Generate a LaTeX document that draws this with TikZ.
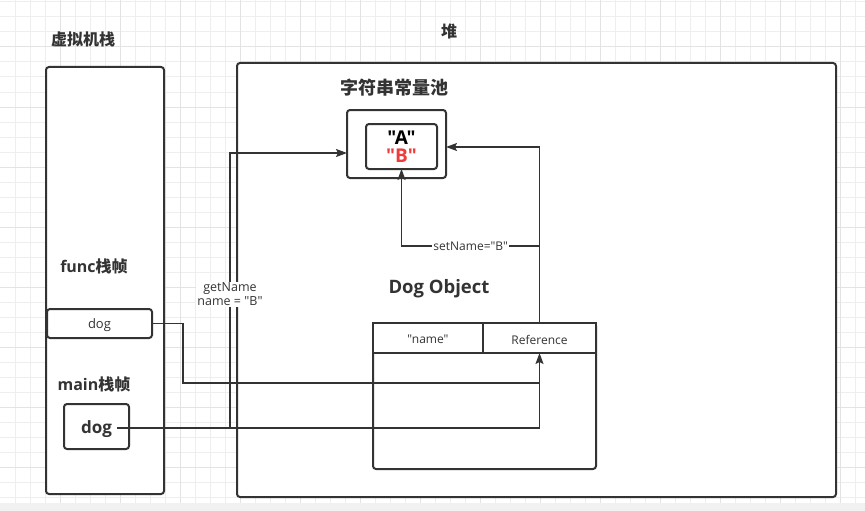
\documentclass[tikz,border=0pt]{standalone}
\usepackage{fontspec}
\setmainfont{Open Sans}[Ligatures=TeXOff]
\newfontfamily\cjk{Noto Sans CJK SC}
\newcommand\dq{\symbol{34}}
\newcommand\lowr[2][2pt]{\raisebox{-#1}[\height][\depth]{#2}}
\usetikzlibrary{arrows.meta}
\definecolor{ink}{HTML}{333333}
\definecolor{gridc}{HTML}{EEEEEE}
\definecolor{gridd}{HTML}{E3E3E3}
\definecolor{band}{HTML}{F1F1F1}
\definecolor{redB}{HTML}{EE3B3B}
\tikzset{
  box/.style={draw=ink, line width=2pt, fill=white, rounded corners=3pt, inner sep=0pt, outer sep=0pt},
  cell/.style={draw=ink, line width=1.6pt, fill=white, inner sep=0pt, outer sep=0pt, font=\fontsize{12}{14}\selectfont, text=ink},
  title/.style={font=\bfseries\fontsize{16}{18}\selectfont, text=ink, inner sep=0pt},
  line/.style={draw=ink, line width=1.7pt},
  conn/.style={line, -{Stealth[length=11pt,width=8pt,inset=2pt]}},
  lbl/.style={fill=white, text=ink, inner sep=1pt, font=\fontsize{12.5}{14}\selectfont, align=center}
}
\begin{document}
\begin{tikzpicture}[x=1pt,y=-1pt]
\useasboundingbox (0,0) rectangle (865,511);
\fill[white] (0,0) rectangle (865,511);
% grid
\foreach \x in {15,30,...,855} \draw[gridc, line width=1pt] (\x,0) -- (\x,503);
\foreach \y in {2,17,...,497} \draw[gridc, line width=1pt] (0,\y) -- (865,\y);
\foreach \x in {60,120,...,840} \draw[gridd, line width=1pt] (\x,0) -- (\x,503);
\foreach \y in {47,107,...,497} \draw[gridd, line width=1pt] (0,\y) -- (865,\y);
\fill[band] (0,503) rectangle (865,511);

% titles
\node[title] (tstack) at (83,39) {\cjk 虚拟机栈};
\node[title] (theap) at (449,31) {\cjk 堆};

% main containers
\node[box, minimum width=118pt, minimum height=427pt] (stack) at (105,280.5) {};
\node[box, minimum width=599pt, minimum height=434pt] (heap) at (536.5,280) {};

% string pool
\node[title, font=\bfseries\fontsize{18}{20}\selectfont] (tpool) at (394,88) {\cjk 字符串常量池};
\node[box, minimum width=99pt, minimum height=68pt] (pool) at (396.5,144) {};
\node[box, minimum width=71pt, minimum height=45pt, align=center,
      font=\bfseries\fontsize{19}{19}\selectfont] (inner) at (401.5,146.5)
      {\textcolor{black}{\dq A\dq}\\[-1pt]\textcolor{redB}{\dq B\dq}};

% stack frames
\node[title] (tfunc) at (94,266) {func\cjk 栈帧};
\node[box, minimum width=105pt, minimum height=29pt, text=ink,
      font=\fontsize{13}{14}\selectfont] (fdog) at (99.5,323.5) {\lowr{dog}};
\node[title] (tmain) at (94,384) {main\cjk 栈帧};
\node[box, minimum width=65pt, minimum height=45pt, text=ink,
      font=\bfseries\fontsize{17}{18}\selectfont] (mdog) at (96.5,426.5) {\lowr[3pt]{dog}};

% Dog object
\node[title, font=\bfseries\fontsize{18.5}{20}\selectfont] (tdog) at (439,288.5) {Dog Object};
\node[box, minimum width=223pt, minimum height=146pt] (obj) at (484.5,396) {};
\node[cell, minimum width=110pt, minimum height=30pt] (namecell) at (428,338) {\lowr[1.5pt]{\dq name\dq}};
\node[cell, minimum width=113pt, minimum height=30pt] (ref) at (539.5,338) {\lowr[1.5pt]{Reference}};

% junction coordinates
\coordinate (j1) at (230,428);
\coordinate (k2) at (183,383);
\coordinate (j3) at (540,246);

% connectors
\draw[conn] ([xshift=-12pt,yshift=-1.5pt]mdog.east) -| (ref.south);
\draw[conn] (j1) |- node[lbl, pos=0.25, yshift=-4pt] (lget) {getName\\name = \dq B\dq} ([yshift=-9pt]pool.west);
\draw[line] (fdog.east) -| (k2) -- (k2 -| ref.south);
\draw[conn] (ref.north) |- ([yshift=-3pt]pool.east);
\draw[conn] (j3) -| node[lbl, pos=0.25, font=\fontsize{12}{14}\selectfont] (lset) {setName=\dq B\dq} (inner.south);
\end{tikzpicture}
\end{document}
